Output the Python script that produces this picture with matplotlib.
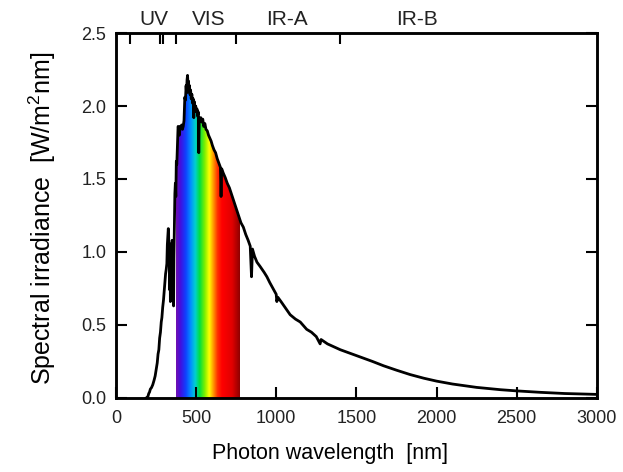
import matplotlib
matplotlib.use("Agg")
import matplotlib.pyplot as plt
import numpy as np
from matplotlib.colors import LinearSegmentedColormap
from matplotlib.patches import PathPatch

plt.rcParams['font.family'] = ['Liberation Sans', 'DejaVu Sans']
plt.rcParams['mathtext.fontset'] = 'custom'
plt.rcParams['mathtext.rm'] = 'Liberation Sans'
plt.rcParams['text.color'] = '#222222'
plt.rcParams['xtick.labelcolor'] = '#222222'
plt.rcParams['ytick.labelcolor'] = '#222222'

# solar spectrum (nm, W/m2nm)
wavelength = [190, 200, 205, 210, 215, 222, 230, 238, 245, 252, 258, 263, 268, 273, 278,
              283, 287, 292, 297, 302, 306, 310, 314, 318, 321, 324, 327, 329, 331, 333,
              336, 338, 340, 342, 345, 348, 351, 354, 357, 360, 362, 365, 368, 371, 374,
              377, 380, 384, 388, 392, 396, 400, 405, 410, 415, 420, 425, 430, 434, 438,
              441, 444, 447, 450, 453, 456, 459, 462, 466, 470, 474, 478, 482, 486, 489,
              494, 498, 502, 506, 510, 514, 517, 520, 525, 530, 536, 542, 548, 555, 562,
              570, 578, 586, 594, 602, 612, 622, 632, 642, 652, 656, 660, 670, 682, 695,
              708, 720, 735, 750, 765, 780, 795, 810, 825, 838, 846, 852, 865, 880, 900,
              925, 942, 960, 980, 1000, 1004, 1010, 1030, 1055, 1087, 1120, 1150, 1190, 1220,
              1250, 1274, 1280, 1320, 1360, 1400, 1450, 1500, 1550, 1600, 1670, 1750, 1835,
              1920, 2000, 2100, 2250, 2400, 2500, 2650, 2800, 2900, 3000]
irradiance = [0.00, 0.01, 0.03, 0.04, 0.06, 0.07, 0.09, 0.12, 0.15, 0.20, 0.24, 0.30, 0.33, 0.41, 0.45,
              0.52, 0.55, 0.62, 0.67, 0.74, 0.79, 0.85, 0.88, 0.92, 1.05, 1.10, 1.16, 1.12, 0.98, 1.06,
              0.74, 1.02, 0.66, 0.95, 1.00, 0.92, 1.08, 1.02, 0.88, 0.63, 0.96, 1.20, 1.40, 1.47, 1.38,
              1.62, 1.60, 1.74, 1.86, 1.85, 1.80, 1.86, 1.85, 1.87, 1.84, 1.86, 1.90, 2.06, 2.04, 2.14,
              2.09, 2.18, 2.21, 2.15, 2.17, 2.10, 2.14, 2.08, 2.11, 2.05, 2.08, 2.02, 2.05, 1.92, 2.03,
              1.98, 2.00, 1.96, 1.98, 1.93, 1.96, 1.68, 1.92, 1.90, 1.92, 1.89, 1.91, 1.86, 1.88, 1.84,
              1.83, 1.80, 1.78, 1.76, 1.73, 1.70, 1.68, 1.64, 1.61, 1.58, 1.38, 1.57, 1.54, 1.51, 1.47,
              1.44, 1.40, 1.35, 1.30, 1.25, 1.20, 1.17, 1.12, 1.08, 1.04, 0.83, 1.02, 0.97, 0.93, 0.90,
              0.86, 0.83, 0.79, 0.75, 0.71, 0.66, 0.69, 0.66, 0.62, 0.57, 0.54, 0.52, 0.47, 0.45,
              0.42, 0.37, 0.40, 0.37, 0.35, 0.33, 0.31, 0.29, 0.27, 0.25, 0.22, 0.19, 0.16,
              0.135, 0.115, 0.095, 0.072, 0.056, 0.048, 0.038, 0.030, 0.027, 0.024]

vis_range = [378, 776]
band_edges = [90, 277, 297, 378, 752, 1400]
band_names = ['UV', 'VIS', 'IR-A', 'IR-B']
band_label_x = [240, 578, 1070, 1877]

rainbow = ['#7010b0', '#4010e0', '#1040ff', '#0090ff', '#00d0d0', '#00e040', '#80f000',
           '#ffff00', '#ffa000', '#ff3000', '#ff0000', '#e00000', '#900000']
rainbow_pos = [0.0, 0.07, 0.15, 0.23, 0.30, 0.37, 0.45, 0.52, 0.58, 0.65, 0.72, 0.88, 1.0]

fig = plt.figure(figsize=(6.23, 4.72), dpi=100)
ax = fig.add_axes([0.186, 0.157, 0.772, 0.773])

# rainbow under the curve, clipped to the area below the spectrum
cmap = LinearSegmentedColormap.from_list('vis', list(zip(rainbow_pos, rainbow)))
grad = np.linspace(0, 1, 400).reshape(1, -1)
im = ax.imshow(grad, cmap=cmap, aspect='auto', extent=[vis_range[0], vis_range[1], 0, 2.5],
               origin='lower', zorder=1)
area = ax.fill_between(wavelength, irradiance, 0, color='none', lw=0)
clip = PathPatch(area.get_paths()[0], transform=ax.transData, facecolor='none', edgecolor='none')
ax.add_patch(clip)
im.set_clip_path(clip)

ax.plot(wavelength, irradiance, color='black', lw=2.0, zorder=3)

ax.set_xlim(0, 3000)
ax.set_ylim(0, 2.5)
ax.set_xticks([0, 500, 1000, 1500, 2000, 2500, 3000])
ax.set_yticks([0, 0.5, 1.0, 1.5, 2.0, 2.5])
ax.set_yticklabels(['%.1f' % v for v in [0, 0.5, 1.0, 1.5, 2.0, 2.5]])
ax.tick_params(axis='both', direction='in', length=8, width=1.5, labelsize=13)
ax.tick_params(axis='x', pad=9)
ax.tick_params(axis='y', right=True, pad=7)
for sp in ax.spines.values():
    sp.set_linewidth(1.8)

top = ax.twiny()
top.set_xlim(0, 3000)
top.set_xticks(band_edges)
top.set_xticklabels([])
top.tick_params(direction='in', length=8, width=1.5)
for sp in top.spines.values():
    sp.set_linewidth(1.8)

for name, xpos in zip(band_names, band_label_x):
    ax.text(xpos, 1.012, name, transform=ax.get_xaxis_transform(), ha='center', va='bottom',
            fontsize=15)

ax.set_xlabel('Photon wavelength  [nm]', fontsize=15.5)
ax.xaxis.set_label_coords(0.445, -0.123)
ax.set_ylabel(r'Spectral irradiance  [W/m$^2$nm]', fontsize=18)
ax.yaxis.set_label_coords(-0.154, 0.493)
ax.yaxis.label.set_va('center')

fig.savefig('out.png', dpi=100)
